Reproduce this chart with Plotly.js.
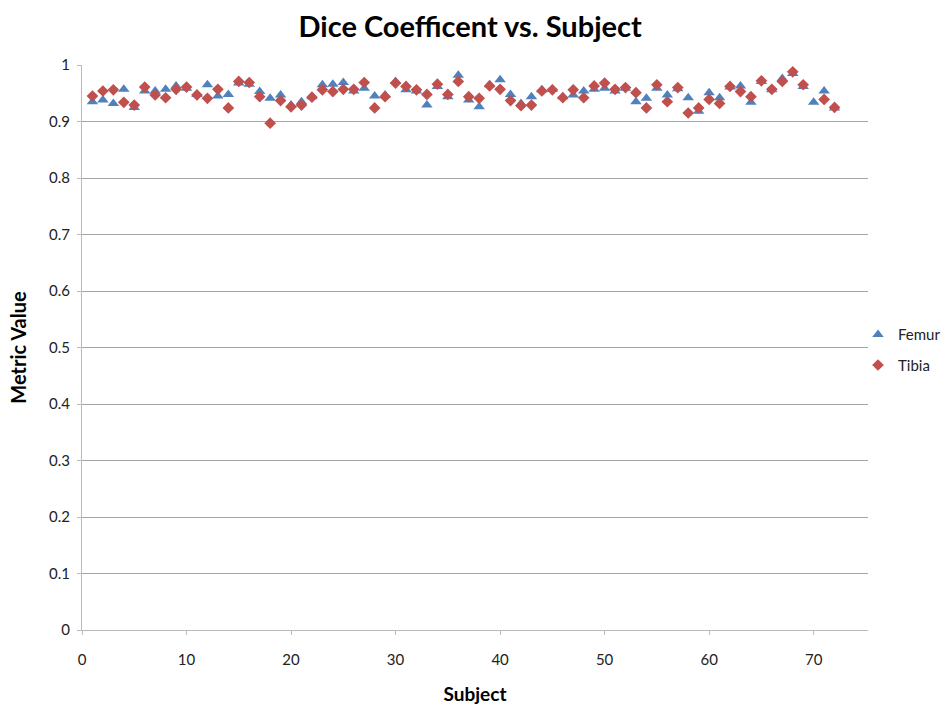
<!DOCTYPE html>
<html>
<head>
<meta charset="utf-8">
<script src="https://cdn.plot.ly/plotly-3.0.1.min.js"></script>
<style>html,body{margin:0;padding:0;background:#fff;}#chart{width:946px;height:706px;}</style>
</head>
<body>
<div id="chart"></div>
<script>
const subjects = [1,2,3,4,5,6,7,8,9,10,11,12,13,14,15,16,17,18,19,20,21,22,23,24,25,26,27,28,29,30,31,32,33,34,35,36,37,38,39,40,41,42,43,44,45,46,47,48,49,50,51,52,53,54,55,56,57,58,59,60,61,62,63,64,65,66,67,68,69,70,71,72];
const femur = [0.935,0.938,0.932,0.957,0.925,0.954,0.954,0.957,0.963,0.959,0.948,0.965,0.945,0.948,0.968,0.966,0.953,0.941,0.947,0.929,0.935,0.944,0.965,0.966,0.969,0.954,0.959,0.945,0.947,0.971,0.956,0.954,0.929,0.962,0.944,0.982,0.938,0.926,0.965,0.974,0.948,0.932,0.944,0.956,0.957,0.944,0.947,0.954,0.957,0.959,0.954,0.959,0.935,0.941,0.959,0.947,0.958,0.942,0.918,0.951,0.942,0.961,0.963,0.934,0.971,0.956,0.976,0.985,0.962,0.934,0.954,0.924];
const tibia = [0.945,0.954,0.956,0.934,0.929,0.961,0.947,0.942,0.957,0.961,0.947,0.941,0.957,0.924,0.971,0.969,0.944,0.897,0.937,0.926,0.929,0.943,0.956,0.953,0.957,0.957,0.969,0.924,0.944,0.968,0.962,0.956,0.948,0.966,0.948,0.971,0.944,0.941,0.963,0.957,0.937,0.928,0.929,0.954,0.956,0.942,0.956,0.942,0.963,0.968,0.957,0.960,0.951,0.924,0.965,0.935,0.960,0.915,0.924,0.939,0.932,0.962,0.953,0.944,0.972,0.957,0.971,0.988,0.965,null,0.939,0.925];
const yTicks = [0,0.1,0.2,0.3,0.4,0.5,0.6,0.7,0.8,0.9,1];
const yTickText = ['0','0.1','0.2','0.3','0.4','0.5','0.6','0.7','0.8','0.9','1'];
const xTicks = [0,10,20,30,40,50,60,70];

const font = 'Lato, "Open Sans", "DejaVu Sans", sans-serif';
const traces = [
  {x: subjects, y: femur, name: 'Femur', legendgroup: 'f', type: 'scatter', mode: 'markers',
   marker: {symbol: 'triangle-up', size: 10, color: '#4F81BD'}},
  {x: subjects, y: tibia, name: 'Tibia', legendgroup: 't', type: 'scatter', mode: 'markers',
   marker: {symbol: 'diamond', size: 9, color: '#C0504D'}}
];
const layout = {
  width: 946, height: 706,
  margin: {l: 82, r: 78, t: 65, b: 76, pad: 0, autoexpand: false},
  paper_bgcolor: '#fff', plot_bgcolor: '#fff',
  font: {family: font, size: 15, color: '#222'},
  title: {text: '<b>Dice Coefficent vs. Subject</b>', font: {family: font, size: 29, color: '#000'},
          x: 0.497, xanchor: 'center', y: 0.962, yanchor: 'middle'},
  xaxis: {range: [0, 75.2], tickmode: 'array', tickvals: xTicks, showgrid: false, zeroline: false,
          showline: true, linecolor: '#bbb', linewidth: 1, ticks: 'outside', ticklen: 4, tickcolor: '#bbb',
          ticklabelstandoff: 12, tickfont: {family: font, size: 15, color: '#222'},
          title: {text: '<b>Subject</b>', font: {family: font, size: 19, color: '#000'}, standoff: 20}},
  yaxis: {range: [0, 1], tickmode: 'array', tickvals: yTicks, ticktext: yTickText, showgrid: true,
          gridcolor: '#a6a6a6', gridwidth: 1, zeroline: false,
          showline: true, linecolor: '#bbb', linewidth: 1, ticks: 'outside', ticklen: 4, tickcolor: '#bbb',
          ticklabelstandoff: 4, tickfont: {family: font, size: 15, color: '#222'},
          title: {text: '<b>Metric Value</b>', font: {family: font, size: 20, color: '#000'}, standoff: 17}},
  legend: {x: (864 - 82) / 786, xanchor: 'left', y: 0.496, yanchor: 'middle', font: {family: font, size: 15, color: '#222'},
           bgcolor: 'rgba(0,0,0,0)', itemwidth: 30, tracegroupgap: 8, indentation: -6}
};
Plotly.newPlot('chart', traces, layout, {displayModeBar: false, staticPlot: true});
</script>
</body>
</html>
